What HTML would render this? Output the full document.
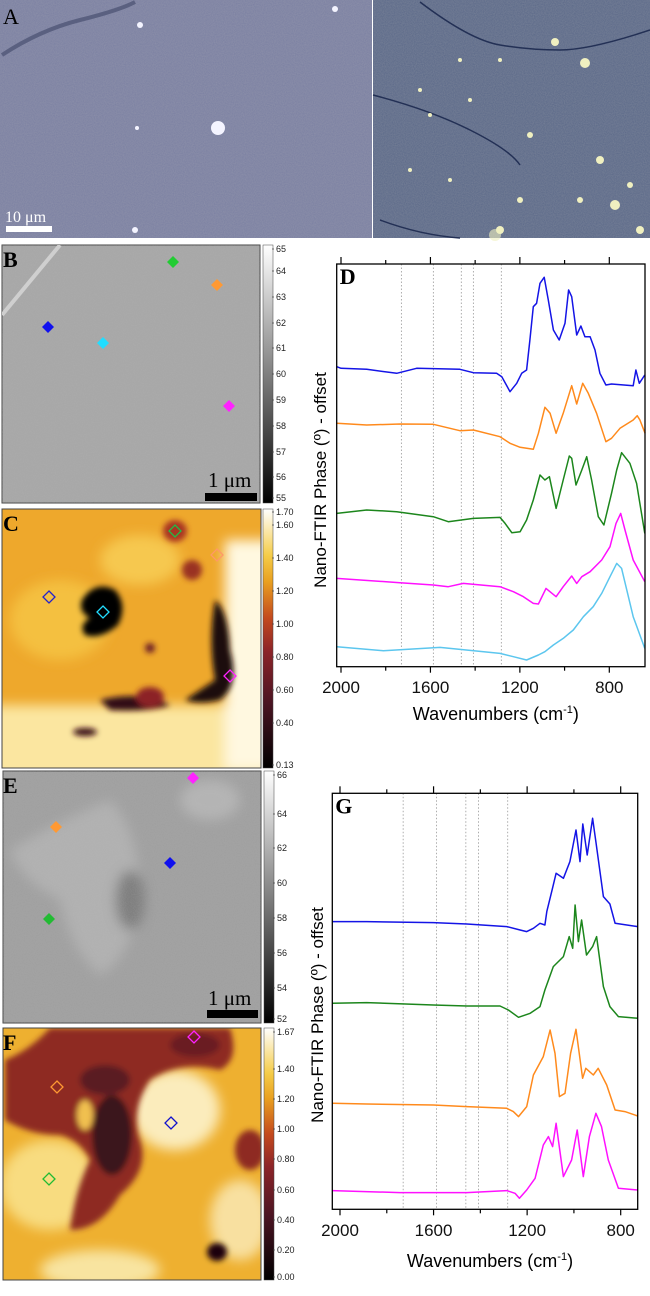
<!DOCTYPE html>
<html><head><meta charset="utf-8">
<style>
html,body{margin:0;padding:0;background:#fff;}
svg{display:block;font-family:"Liberation Sans",sans-serif;}
.lbl{font-family:"Liberation Serif",serif;font-weight:bold;font-size:22px;}
.cb{font-size:9px;fill:#222;}
.tk{font-size:17px;fill:#111;}
</style></head>
<body>
<svg id="fig" width="650" height="1296" viewBox="0 0 650 1296">
<defs>
 <filter id="blur3"><feGaussianBlur stdDeviation="3"/></filter>
 <filter id="blur6"><feGaussianBlur stdDeviation="6"/></filter>
 <filter id="noise" x="0" y="0" width="100%" height="100%">
  <feTurbulence type="fractalNoise" baseFrequency="0.9" numOctaves="2" seed="3"/>
  <feColorMatrix type="matrix" values="0 0 0 0 0.5  0 0 0 0 0.5  0 0 0 0 0.5  0 0 0 0.5 0"/>
 </filter>
 <linearGradient id="gcb" x1="0" y1="1" x2="0" y2="0">
  <stop offset="0" stop-color="#000"/><stop offset="1" stop-color="#fff"/>
 </linearGradient>
 <linearGradient id="hcb" x1="0" y1="1" x2="0" y2="0">
  <stop offset="0" stop-color="#000"/>
  <stop offset="0.25" stop-color="#4a1422"/>
  <stop offset="0.45" stop-color="#8c2428"/>
  <stop offset="0.58" stop-color="#c44a1e"/>
  <stop offset="0.72" stop-color="#e9a020"/>
  <stop offset="0.82" stop-color="#f5cc48"/>
  <stop offset="1" stop-color="#ffffff"/>
 </linearGradient>
 <clipPath id="clipC"><rect x="2" y="509" width="259" height="259"/></clipPath>
 <clipPath id="clipF"><rect x="3" y="1028" width="258" height="252"/></clipPath>
 <clipPath id="clipB"><rect x="2" y="245" width="258" height="258"/></clipPath>
 <clipPath id="clipE"><rect x="3" y="771" width="258" height="252"/></clipPath>
</defs>

<!-- Panel A -->
<g>
 <rect x="0" y="0" width="372" height="238" fill="#7a7fa2"/>
 <rect x="0" y="0" width="372" height="238" filter="url(#noise)" opacity="0.6"/>
 <path d="M2 55 Q40 30 80 20 T135 2" stroke="#5a6080" stroke-width="4" fill="none"/>
 <g fill="#f4f4ff">
  <circle cx="218" cy="128" r="7"/><circle cx="140" cy="25" r="3"/><circle cx="135" cy="230" r="3"/>
  <circle cx="137" cy="128" r="2"/><circle cx="225" cy="248" r="2"/><circle cx="335" cy="9" r="3"/>
 </g>
 <rect x="373" y="0" width="277" height="238" fill="#5a6888"/>
 <rect x="373" y="0" width="277" height="238" filter="url(#noise)" opacity="0.6"/>
 <g stroke="#233055" stroke-width="1.5" fill="none">
  <path d="M420 2 Q470 40 500 45 T560 50 T650 30"/>
  <path d="M373 95 Q430 110 470 130 T520 165"/>
  <path d="M380 220 Q420 235 460 238"/>
 </g>
 <g fill="#f0f0c0">
  <circle cx="500" cy="230" r="4"/><circle cx="555" cy="42" r="4"/><circle cx="585" cy="63" r="5"/>
  <circle cx="600" cy="160" r="4"/><circle cx="615" cy="205" r="5"/><circle cx="640" cy="230" r="4"/>
  <circle cx="495" cy="235" r="6" opacity="0.6"/><circle cx="420" cy="90" r="2"/><circle cx="430" cy="115" r="2"/>
  <circle cx="460" cy="60" r="2"/><circle cx="470" cy="100" r="2"/><circle cx="500" cy="60" r="2"/>
  <circle cx="410" cy="170" r="2"/><circle cx="450" cy="180" r="2"/><circle cx="530" cy="135" r="3"/>
  <circle cx="580" cy="200" r="3"/><circle cx="630" cy="185" r="3"/><circle cx="520" cy="200" r="3"/>
 </g>
 <text x="3" y="24" class="lbl" style="font-weight:normal">A</text>
 <text x="5" y="222" fill="#fff" style="font-family:'Liberation Serif',serif;font-size:16px">10 μm</text>
 <rect x="6" y="226" width="46" height="6" fill="#fff"/>
</g>

<!-- Panel B -->
<g>
 <rect x="2" y="245" width="258" height="258" fill="#a6a6a6" stroke="#444"/>
 <g clip-path="url(#clipB)">
  <rect x="2" y="245" width="258" height="258" filter="url(#noise)" opacity="0.5"/>
  <path d="M2 315 L60 245" stroke="#cfcfcf" stroke-width="4"/>
 </g>
 <rect x="263" y="245" width="10" height="258" fill="url(#gcb)" stroke="#444" stroke-width="0.5"/>
 <text x="3" y="267" class="lbl">B</text>
 <text x="208" y="487" style="font-family:'Liberation Serif',serif;font-size:21px">1 μm</text>
 <rect x="205" y="493" width="52" height="8" fill="#000"/>
</g>

<!-- Panel C -->
<g>
 <rect x="2" y="509" width="259" height="259" fill="#eea82c"/>
 <g clip-path="url(#clipC)">
  <g filter="url(#blur6)">
   <rect x="-10" y="705" width="280" height="80" fill="#fbe6a0"/>
   <rect x="225" y="540" width="50" height="230" fill="#fff8e0"/>
   <ellipse cx="60" cy="620" rx="50" ry="40" fill="#f4c040"/>
   <ellipse cx="140" cy="560" rx="40" ry="25" fill="#f6c850"/>
  </g>
  <g filter="url(#blur3)">
   <path d="M82 600 Q95 580 115 590 Q128 605 118 625 Q100 640 85 635 Q78 625 90 618 Q78 612 82 600Z" fill="#000"/>
   <path d="M215 600 Q228 610 230 650 Q240 685 220 700 Q200 705 185 700 Q200 690 215 680 Q208 640 215 600Z" fill="#1a0810"/>
   <path d="M100 700 Q140 690 170 705 Q150 712 110 710Z" fill="#300c18"/>
   <ellipse cx="150" cy="697" rx="14" ry="10" fill="#8c2428"/>
   <ellipse cx="175" cy="531" rx="12" ry="11" fill="#a83424"/>
   <ellipse cx="192" cy="570" rx="10" ry="10" fill="#9a3024"/>
   <ellipse cx="85" cy="732" rx="12" ry="4" fill="#3a0c18"/>
   <ellipse cx="150" cy="648" rx="5" ry="5" fill="#6a1e28"/>
  </g>
 </g>
 <rect x="2" y="509" width="259" height="259" fill="none" stroke="#444"/>
 <rect x="263" y="509" width="10" height="259" fill="url(#hcb)" stroke="#444" stroke-width="0.5"/>
 <text x="3" y="531" class="lbl">C</text>
</g>

<!-- Panel E -->
<g>
 <rect x="3" y="771" width="258" height="252" fill="#9e9e9e" stroke="#444"/>
 <g clip-path="url(#clipE)">
  <g filter="url(#blur6)" opacity="0.7">
   <path d="M10 850 Q60 820 110 800 Q140 830 140 900 Q130 960 100 975 Q70 950 60 900 Q20 880 10 850Z" fill="#b8b8b8"/>
   <ellipse cx="210" cy="800" rx="30" ry="20" fill="#bdbdbd"/>
   <ellipse cx="130" cy="900" rx="15" ry="30" fill="#6a6a6a"/>
  </g>
  <rect x="3" y="771" width="258" height="252" filter="url(#noise)" opacity="0.5"/>
 </g>
 <rect x="264" y="771" width="10" height="252" fill="url(#gcb)" stroke="#444" stroke-width="0.5"/>
 <text x="3" y="793" class="lbl">E</text>
 <text x="208" y="1005" style="font-family:'Liberation Serif',serif;font-size:21px">1 μm</text>
 <rect x="207" y="1010" width="51" height="8" fill="#000"/>
</g>

<!-- Panel F -->
<g>
 <rect x="3" y="1028" width="258" height="252" fill="#eeb030"/>
 <g clip-path="url(#clipF)">
  <g filter="url(#blur6)">
   <ellipse cx="50" cy="1185" rx="50" ry="45" fill="#f8dc80"/>
   <ellipse cx="175" cy="1110" rx="45" ry="40" fill="#fbecbc"/>
   <ellipse cx="240" cy="1220" rx="30" ry="40" fill="#f8e0a0"/>
   <ellipse cx="100" cy="1270" rx="60" ry="20" fill="#f8e4a0"/>
  </g>
  <g filter="url(#blur3)">
   <path d="M50 1028 L230 1028 Q240 1060 220 1070 Q180 1060 150 1080 Q130 1110 140 1140 Q150 1170 120 1195 Q100 1230 70 1230 Q75 1190 90 1160 Q80 1140 60 1135 Q30 1135 5 1120 L5 1060 Q30 1050 50 1028Z" fill="#8e2a22"/>
   <ellipse cx="112" cy="1135" rx="20" ry="40" fill="#3a121c"/>
   <ellipse cx="105" cy="1080" rx="25" ry="15" fill="#5a1a22"/>
   <ellipse cx="195" cy="1045" rx="25" ry="12" fill="#6a1e24"/>
   <ellipse cx="85" cy="1115" rx="8" ry="15" fill="#f0c050"/>
   <ellipse cx="250" cy="1150" rx="15" ry="20" fill="#8e2a22"/>
   <ellipse cx="217" cy="1252" rx="10" ry="9" fill="#1a0610"/>
  </g>
 </g>
 <rect x="3" y="1028" width="258" height="252" fill="none" stroke="#444"/>
 <rect x="264" y="1028" width="10" height="252" fill="url(#hcb)" stroke="#444" stroke-width="0.5"/>
 <text x="3" y="1050" class="lbl">F</text>
</g>

<g id="overlay"></g>
</svg>

<script>
// ---------- colorbar tick labels ----------
const cbBLabels = ["65","64","63","62","61","60","59","58","57","56","55"];
const cbBY = [249,271,297,323,348,374,400,426,452,477,498];
const cbCLabels = ["1.70","1.60","1.40","1.20","1.00","0.80","0.60","0.40","0.13"];
const cbCY = [512,525,558,591,624,657,690,723,765];
const cbELabels = ["66","64","62","60","58","56","54","52"];
const cbEY = [775,814,848,883,918,953,988,1019];
const cbFLabels = ["1.67","1.40","1.20","1.00","0.80","0.60","0.40","0.20","0.00"];
const cbFY = [1032,1069,1099,1129,1159,1190,1220,1250,1277];

// ---------- spectra D ----------
const dBlueWn = [2019,2000,1885,1751,1662,1468,1408,1304,1281,1244,1214,1192,1170,1155,1140,1125,1110,1091,1073,1050,1024,998,982,968,946,927,909,886,864,842,815,790,693,681,666,641];
const dBlueV  = [900,895,892,880,895,892,882,880,870,825,850,880,890,980,1080,1090,1150,1168,1100,1010,980,1030,1130,1110,995,1022,990,990,950,880,845,848,843,890,850,875];
const dOrangeWn = [2019,1885,1736,1587,1468,1408,1289,1244,1199,1140,1117,1088,1065,1038,1006,968,946,919,894,857,815,790,752,693,675,663,640];
const dOrangeV  = [730,725,728,727,708,710,690,670,658,652,700,778,760,700,760,843,788,850,820,760,675,685,715,740,753,740,700];
const dGreenWn = [2019,1885,1751,1587,1520,1408,1289,1266,1236,1199,1170,1140,1110,1088,1068,1038,1006,979,968,949,923,901,879,849,824,790,767,745,708,678,641];
const dGreenV  = [460,470,465,450,435,445,448,430,402,405,440,500,575,560,570,475,560,632,625,545,590,630,560,450,425,520,590,642,610,550,400];
const dMagWn = [2019,1736,1587,1520,1453,1289,1229,1184,1140,1117,1083,1038,1006,968,946,923,886,834,797,770,749,730,693,641];
const dMagV  = [265,252,245,240,250,240,225,210,190,188,235,210,240,272,250,270,285,320,360,430,460,410,320,255];
const dCyanWn = [2019,1811,1557,1289,1229,1170,1117,1088,1050,1006,961,916,872,834,797,767,745,693,641];
const dCyanV  = [60,48,58,40,30,20,35,45,65,85,110,150,180,220,270,310,295,150,55];

// ---------- spectra G ----------
const gBlueWn = [2033,1886,1601,1458,1287,1230,1202,1173,1145,1124,1116,1095,1076,1045,1017,991,974,962,943,920,905,874,846,824,727];
const gBlueV  = [863,863,860,856,848,838,833,843,858,853,893,953,1008,993,1043,1138,1043,1156,1063,1173,1098,938,916,858,848];
const gGreenWn = [2033,1886,1601,1458,1316,1280,1237,1187,1145,1124,1088,1045,1020,1005,995,981,967,946,920,903,874,846,810,727];
const gGreenV  = [618,620,613,610,610,598,576,588,608,658,728,758,818,783,913,803,868,763,788,818,668,608,578,573];
const gOrangeWn = [2033,1886,1601,1458,1287,1259,1237,1202,1173,1131,1102,1081,1062,1038,1014,991,963,949,917,896,860,824,782,727];
const gOrangeV  = [318,316,313,308,303,293,278,308,403,458,538,468,338,348,468,540,393,423,403,423,373,298,293,280];
const gMagWn = [2033,1744,1458,1287,1252,1233,1202,1166,1131,1109,1091,1076,1045,1010,986,960,934,906,882,853,810,727];
const gMagV  = [56,50,50,56,48,33,58,93,193,218,188,258,98,148,238,98,218,288,248,148,63,58];

const xTickMajor = [2000,1600,1200,800];
const xTickMinor = [1800,1400,1000];
const guideWn = [1730,1587,1462,1408,1283];

const NS = "http://www.w3.org/2000/svg";
const ov = document.getElementById('overlay');
function mk(tag, attrs, parent){
  const e = document.createElementNS(NS, tag);
  for (const k in attrs) e.setAttribute(k, attrs[k]);
  (parent||ov).appendChild(e); return e;
}

function cbar(labels, ys, x, name){
  labels.forEach((t,i)=>{
    const tx = mk('text',{x:x,y:ys[i]+3,class:'cb'});
    tx.textContent = t;
    
    
    mk('line',{x1:x-4,x2:x-2,y1:ys[i],y2:ys[i],stroke:'#444','stroke-width':0.7});
  });
}
cbar(cbBLabels, cbBY, 276, 'colorbar-b');
cbar(cbCLabels, cbCY, 276, 'colorbar-c');
cbar(cbELabels, cbEY, 277, 'colorbar-e');
cbar(cbFLabels, cbFY, 277, 'colorbar-f');

function diamond(cx, cy, color, filled, name){
  const r = 6;
  const p = mk('polygon',{points:`${cx},${cy-r} ${cx+r},${cy} ${cx},${cy+r} ${cx-r},${cy}`,
    fill: filled?color:'none', stroke: color, 'stroke-width': filled?0:1.3});
  
  
}
diamond(173,262,'#22cc33',true,'marker-green-b');
diamond(217,285,'#ff9933',true,'marker-orange-b');
diamond(48,327,'#1010ee',true,'marker-blue-b');
diamond(103,343,'#22ddff',true,'marker-cyan-b');
diamond(229,406,'#ff22ff',true,'marker-magenta-b');
diamond(175,531,'#22bb44',false,'marker-green-c');
diamond(217,555,'#ff9966',false,'marker-orange-c');
diamond(49,597,'#2222cc',false,'marker-blue-c');
diamond(103,612,'#22ddff',false,'marker-cyan-c');
diamond(230,676,'#ff22ff',false,'marker-magenta-c');
diamond(193,778,'#ff22ff',true,'marker-magenta-e');
diamond(56,827,'#ff9933',true,'marker-orange-e');
diamond(170,863,'#1010ee',true,'marker-blue-e');
diamond(49,919,'#22bb33',true,'marker-green-e');
diamond(194,1037,'#ff22ff',false,'marker-magenta-f');
diamond(57,1087,'#ff9933',false,'marker-orange-f');
diamond(171,1123,'#1111cc',false,'marker-blue-f');
diamond(49,1179,'#22bb33',false,'marker-green-f');

function chart(cfg){
  const g = mk('g',{});
  
  
  const k = (cfg.x800 - cfg.x2000)/1200;
  const xs = wn => cfg.x2000 + (2000-wn)*k;
  const ys = v => cfg.bottom - v/cfg.vmax*(cfg.bottom-cfg.top);
  guideWn.forEach(w=>{
    const l = mk('line',{x1:xs(w),x2:xs(w),y1:cfg.top,y2:cfg.bottom,stroke:'#999','stroke-width':0.8,'stroke-dasharray':'1.5,2'},g);
    
    
  });
  cfg.series.forEach(s=>{
    const pts = s.wn.map((w,i)=>xs(w).toFixed(1)+','+ys(s.v[i]).toFixed(1)).join(' ');
    const pl = mk('polyline',{points:pts,fill:'none',stroke:s.color,'stroke-width':1.5,'stroke-linejoin':'round'},g);
    
    
  });
  const fr = mk('rect',{x:cfg.left,y:cfg.top,width:cfg.right-cfg.left,height:cfg.bottom-cfg.top,fill:'none',stroke:'#000','stroke-width':1.3},g);
  
  
  xTickMajor.forEach(w=>{
    mk('line',{x1:xs(w),x2:xs(w),y1:cfg.top-7,y2:cfg.top,stroke:'#000','stroke-width':1.2},g);
    mk('line',{x1:xs(w),x2:xs(w),y1:cfg.bottom,y2:cfg.bottom+6,stroke:'#000','stroke-width':1.2},g);
    const t = mk('text',{x:xs(w),y:cfg.tickY,'text-anchor':'middle',class:'tk'},g);
    t.textContent = String(w);
    
    
  });
  xTickMinor.forEach(w=>{
    mk('line',{x1:xs(w),x2:xs(w),y1:cfg.top-4,y2:cfg.top,stroke:'#000','stroke-width':1.2},g);
    mk('line',{x1:xs(w),x2:xs(w),y1:cfg.bottom,y2:cfg.bottom+4,stroke:'#000','stroke-width':1.2},g);
  });
  const xt = mk('text',{x:(cfg.left+cfg.right)/2+5,y:cfg.titleY,'text-anchor':'middle','font-size':18},g);
  xt.innerHTML = 'Wavenumbers (cm<tspan dy="-7" font-size="11">-1</tspan><tspan dy="7">)</tspan>';
  
  
  const yt = mk('text',{x:0,y:0,'text-anchor':'middle','font-size':17,transform:`translate(${cfg.yTitleX},${cfg.yTitleY}) rotate(-90)`},g);
  yt.textContent = 'Nano-FTIR Phase (º) - offset';
  
  
  const pl = mk('text',{x:cfg.left+3,y:cfg.top+20,class:'lbl'},g);
  pl.textContent = cfg.letter;
  
  
}

chart({name:'spectra-chart-d', letter:'D', left:336.7, right:645, top:264, bottom:666.7,
  x2000:341, x800:609.3, vmax:1208, tickY:693, titleY:720, yTitleX:326, yTitleY:480,
  series:[
   {name:'series-blue-d', color:'#1414e6', wn:dBlueWn, v:dBlueV},
   {name:'series-orange-d', color:'#ff8a1c', wn:dOrangeWn, v:dOrangeV},
   {name:'series-green-d', color:'#1c861c', wn:dGreenWn, v:dGreenV},
   {name:'series-magenta-d', color:'#ff10ff', wn:dMagWn, v:dMagV},
   {name:'series-cyan-d', color:'#5cc6ee', wn:dCyanWn, v:dCyanV}
  ]});
chart({name:'spectra-chart-g', letter:'G', left:332.3, right:637.7, top:793.3, bottom:1209.3,
  x2000:340, x800:620.7, vmax:1248, tickY:1236, titleY:1267, yTitleX:323, yTitleY:1015,
  series:[
   {name:'series-blue-g', color:'#1414e6', wn:gBlueWn, v:gBlueV},
   {name:'series-green-g', color:'#1c861c', wn:gGreenWn, v:gGreenV},
   {name:'series-orange-g', color:'#ff8a1c', wn:gOrangeWn, v:gOrangeV},
   {name:'series-magenta-g', color:'#ff10ff', wn:gMagWn, v:gMagV}
  ]});
</script>
</body></html>
